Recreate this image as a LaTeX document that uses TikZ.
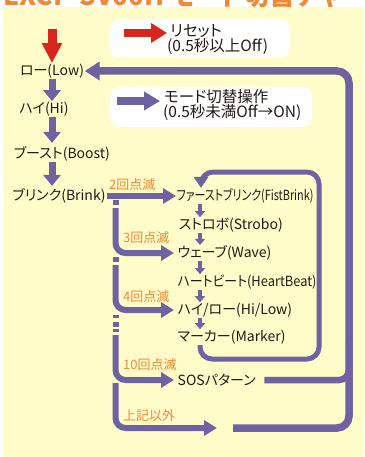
\documentclass[tikz,border=0pt]{standalone}
\usepackage{fontspec}
\newfontfamily\jp[RawFeature=+palt]{Noto Sans CJK JP}
\usetikzlibrary{arrows.meta}
\definecolor{bg}{HTML}{FFFCC9}
\definecolor{pur}{HTML}{6E62A0}
\definecolor{rd}{HTML}{D9261C}
\definecolor{org}{HTML}{EE8A36}
\definecolor{ink}{HTML}{231815}
\tikzset{
  colnode/.style={text=ink, font=\jp\fontsize{14}{15}\selectfont, inner sep=0.5pt},
  modenode/.style={colnode, anchor=west},
  legendtext/.style={text=ink, font=\jp\fontsize{15.5}{16}\selectfont, inner sep=0pt, anchor=west},
  cntlabel/.style={text=org, font=\jp\fontsize{13}{14}\selectfont, inner sep=0pt, anchor=west},
  bigflow/.style={draw=pur, line width=7.5pt, rounded corners=12pt, -{Triangle[length=15pt,width=18pt]}},
  branchflow/.style={draw=pur, line width=6pt, rounded corners=10pt, -{Triangle[length=13pt,width=15pt]}},
  colflow/.style={draw=pur, line width=7pt, -{Triangle[length=11pt,width=17pt]}},
  smallflow/.style={draw=pur, line width=4.5pt, -{Triangle[length=6pt,width=10pt]}},
  innerloop/.style={draw=pur, line width=5pt, rounded corners=12pt, -{Triangle[length=11pt,width=14pt]}},
  dashpiece/.style={draw=pur, line width=6pt},
  legendbox/.style={fill=white, rounded corners=10pt},
}
\begin{document}
\begin{tikzpicture}[x=1pt,y=-1pt]
\useasboundingbox (0,0) rectangle (364,457);
\fill[white] (0,0) rectangle (364,457);
\fill[bg] (3,7) rectangle (364,457);
% clipped title
\begin{scope}
\clip (0,0) rectangle (364,7);
\node[anchor=base west, text=org, inner sep=0pt, font=\jp\bfseries\fontsize{26}{26}\selectfont] (title) at (3,6) {EXCP-SV00H モード切替チャート図};
\end{scope}

% legend boxes
\fill[legendbox] (110,19) rectangle (290,58);
\fill[legendbox] (110,87) rectangle (312,127);
\coordinate (r1) at (124,33);
\coordinate (r2) at (167,33);
\draw[draw=rd, line width=8pt, -{Triangle[length=16pt,width=19pt]}] (r1) -- (r2);
\node[legendtext] (reset1) at (170,31) {リセット};
\node[legendtext] (reset2) at (167,47) {(0.5秒以上Off)};
\coordinate (p1) at (117,101);
\coordinate (p2) at (160,101);
\draw[draw=pur, line width=8pt, -{Triangle[length=16pt,width=18pt]}] (p1) -- (p2);
\node[legendtext] (mode1) at (164,97) {モード切替操作};
\node[legendtext] (mode2) at (163,113) {(0.5秒未満Off→ON)};

% main column
\node[colnode] (Low) at (52,71) {ロー(Low)};
\node[colnode] (Hi) at (44,109) {ハイ(Hi)};
\node[colnode] (Boost) at (62,154) {ブースト(Boost)};
\node[colnode] (Brink) at (59,196) {ブリンク(Brink)};
\coordinate (cx) at (52,0);
\coordinate (rtop) at (52,29);
\draw[draw=rd, line width=9pt, -{Triangle[length=20pt,width=19pt]}] (rtop) -- (Low.north -| cx);
\draw[colflow] (Low.south -| cx) -- (Hi.north -| cx);
\draw[colflow, shorten >=3pt] (Hi.south -| cx) -- (Boost.north -| cx);
\draw[colflow, shorten >=2pt] (Boost.south -| cx) -- (Brink.north -| cx);

% mode list
\node[modenode] (Fist) at (176,196) {\scalebox{0.78}[1]{ファーストブリンク(FistBrink)}};
\node[modenode] (Strobo) at (178,225) {ストロボ(Strobo)};
\node[modenode] (Wave) at (177,253) {ウェーブ(Wave)};
\node[modenode] (Heart) at (177,282) {\scalebox{0.92}[1]{ハートビート(HeartBeat)}};
\node[modenode] (HiLow) at (177,310) {ハイ/ロー(Hi/Low)};
\node[modenode] (Marker) at (177,337) {マーカー(Marker)};
\node[modenode] (SOS) at (177,380) {SOSパターン};
\coordinate (mx) at (200,0);
\draw[smallflow] (Fist.south west -| mx) -- (Strobo.north west -| mx);
\draw[smallflow] (Strobo.south west -| mx) -- (Wave.north west -| mx);
\draw[smallflow] (Wave.south west -| mx) -- (Heart.north west -| mx);
\draw[smallflow] (Heart.south west -| mx) -- (HiLow.north west -| mx);
\draw[smallflow] (HiLow.south west -| mx) -- (Marker.north west -| mx);

% inner loop
\coordinate (il0) at (200,345);
\draw[innerloop] (il0) -- (200,359) -- (319,359) -- (319,172) -- (201,172) -- (Fist.north west -| 201,0);

% branches
\node[cntlabel] (c2) at (109,185) {2回点滅};
\node[cntlabel] (c3) at (123,238) {3回点滅};
\node[cntlabel] (c4) at (123,297) {4回点滅};
\node[cntlabel] (c10) at (123,365) {10回点滅};
\node[cntlabel] (cx2) at (123,416) {上記以外};
\draw[branchflow] (Brink.east) ++(1,0) -- (Fist.west |- Brink.east);
\draw[dashpiece] (115.5,200) -- (115.5,205);
\coordinate (b3) at (115.5,208);
\draw[branchflow, shorten >=3pt] (b3) |- (Wave.west);
\draw[dashpiece] (115.5,257) -- (115.5,262);
\coordinate (b4) at (115.5,265);
\draw[branchflow, shorten >=3pt] (b4) |- (HiLow.west);
\draw[dashpiece] (115.5,315) -- (115.5,318);
\draw[dashpiece] (115.5,322) -- (115.5,327);
\draw[dashpiece] (115.5,329) -- (115.5,332);
\coordinate (b10) at (115.5,335);
\draw[branchflow, shorten >=3pt] (b10) |- (SOS.west);
\coordinate (bx) at (115.5,383);
\coordinate (gapL) at (217,428);
\draw[branchflow] (bx) |- (gapL);

% big loop back to Low
\coordinate (gapR) at (233,428);
\draw[draw=pur, line width=6.5pt, rounded corners=10pt, shorten <=8pt] (SOS.east) -| (349,340);
\draw[bigflow] (gapR) -- (349,428) -- (349,71) -- (Low.east);
\end{tikzpicture}
\end{document}
